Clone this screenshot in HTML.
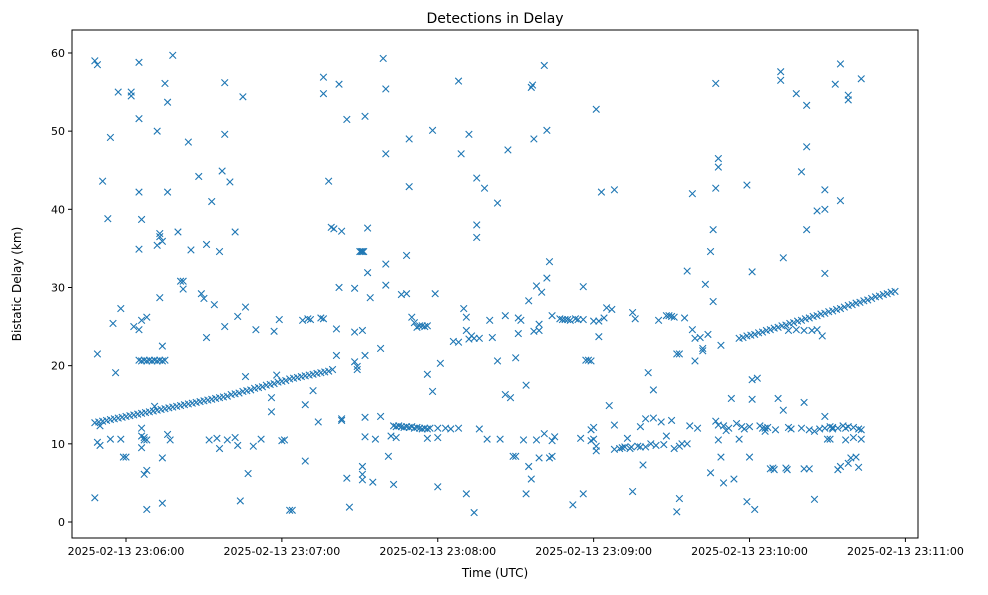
<!DOCTYPE html>
<html><head><meta charset="utf-8"><style>
body{margin:0;background:#fff;font-family:"Liberation Sans","DejaVu Sans",sans-serif;}
svg text{font-family:"DejaVu Sans","Liberation Sans",sans-serif;}
</style></head><body>
<svg id="chart" width="988" height="590" viewBox="0 0 988 590" xmlns="http://www.w3.org/2000/svg">
<rect width="988" height="590" fill="#fff"/>
<text x="495" y="23" font-size="14" text-anchor="middle">Detections in Delay</text>
<text x="495" y="577" font-size="12" text-anchor="middle">Time (UTC)</text>
<text x="21" y="284" font-size="12" text-anchor="middle" transform="rotate(-90 21 284)">Bistatic Delay (km)</text>
<g id="marks"></g>
<g id="axes"></g>
</svg>
<script>
// seconds after 23:06:00, delay km
const xTickLabels = ["2025-02-13 23:06:00","2025-02-13 23:07:00","2025-02-13 23:08:00","2025-02-13 23:09:00","2025-02-13 23:10:00","2025-02-13 23:11:00"];
const xTickSeconds = [0,60,120,180,240,300];
const yTicks = [0,10,20,30,40,50,60];
const track1 = [[-12,12.7],[-10.5,12.8],[-9,12.9],[-7.5,13.0],[-6,13.1],[-4.5,13.2],[-3,13.3],[-1.5,13.4],[0,13.5],[1.5,13.6],[3,13.7],[4.5,13.8],[6,13.9],[7.5,14.0],[9,14.1],[10.5,14.2],[12,14.3],[13.5,14.4],[15,14.5],[16.5,14.6],[18,14.7],[19.5,14.8],[21,14.9],[22.5,15.0],[24,15.1],[25.5,15.2],[27,15.3],[28.5,15.4],[30,15.5],[31.5,15.6],[33,15.7],[34.5,15.8],[36,15.9],[37.5,16.0],[39,16.1],[40.5,16.3],[42,16.4],[43.5,16.5],[45,16.7],[46.5,16.8],[48,16.9],[49.5,17.1],[51,17.2],[52.5,17.3],[54,17.5],[55.5,17.6],[57,17.7],[58.5,17.9],[60,18.0],[61.5,18.1],[63,18.3],[64.5,18.4],[66,18.5],[67.5,18.6],[69,18.7],[70.5,18.8],[72,18.9],[73.5,19.0],[75,19.1],[76.5,19.2],[78,19.3],[79.5,19.5]];
const track2 = [[236,23.5],[237.5,23.6],[239,23.8],[240.5,23.9],[242,24.0],[243.5,24.2],[245,24.3],[246.5,24.5],[248,24.6],[249.5,24.8],[251,24.9],[252.5,25.1],[254,25.2],[255.5,25.4],[257,25.5],[258.5,25.7],[260,25.8],[261.5,26.0],[263,26.1],[264.5,26.3],[266,26.4],[267.5,26.6],[269,26.7],[270.5,26.9],[272,27.0],[273.5,27.2],[275,27.3],[276.5,27.5],[278,27.7],[279.5,27.8],[281,28.0],[282.5,28.1],[284,28.3],[285.5,28.4],[287,28.6],[288.5,28.8],[290,28.9],[291.5,29.1],[293,29.2],[294.5,29.4],[296,29.5]];
const clusters = [[5,20.7],[6,20.6],[7,20.7],[8,20.6],[9,20.7],[10,20.6],[11,20.7],[12,20.6],[13,20.7],[14,20.6],[15,20.7],[103,12.3],[104,12.2],[105,12.3],[106,12.2],[107,12.1],[108,12.2],[109,12.1],[110,12.2],[111,12.0],[112,12.1],[113,12.0],[114,11.9],[115,12.0],[116,11.9],[117,12.0],[120,12.0],[123,12.0],[125,11.9],[128,12.0],[255,24.5],[258,24.6],[261,24.5],[264,24.5],[266,24.6],[268,23.8],[70,26.0],[71,25.9],[246,12.0],[247,12.1],[272,12.1],[274,12.0],[278,12.2]];
const outliers = [[-12,59.0],[-11,58.5],[-11,21.5],[-12,3.1],[-11,10.2],[-10,9.8],[-10,12.3],[-9,43.6],[-7,38.8],[-6,49.2],[-5,25.4],[-4,19.1],[-3,55.0],[-6,10.6],[-2,27.3],[-2,10.6],[-1,8.3],[0,8.3],[2,55.0],[2,54.5],[3,25.0],[5,24.6],[5,58.8],[5,51.6],[5,42.2],[6,38.7],[5,34.9],[6,25.8],[8,26.2],[6,12.0],[6,11.0],[7,10.5],[7,10.8],[8,10.5],[6,9.5],[7,6.1],[8,6.6],[8,1.6],[11,14.8],[12,35.4],[13,36.9],[13,36.5],[14,35.9],[13,28.7],[14,22.5],[12,50.0],[14,2.4],[14,8.2],[15,56.1],[16,53.7],[16,42.2],[16,11.2],[17,10.5],[18,59.7],[20,37.1],[21,30.8],[22,30.8],[22,29.8],[24,48.6],[25,34.8],[28,44.2],[29,29.2],[30,28.6],[31,23.6],[31,35.5],[32,10.5],[33,41.0],[34,27.8],[35,10.7],[36,34.6],[36,9.4],[37,44.9],[38,56.2],[38,49.6],[38,25.0],[39,10.5],[40,43.5],[42,37.1],[42,10.8],[43,26.3],[43,9.8],[44,2.7],[45,54.4],[46,27.5],[46,18.6],[47,6.2],[49,9.7],[50,24.6],[52,10.6],[56,15.9],[56,14.1],[57,24.4],[58,18.8],[59,25.9],[60,10.4],[61,10.5],[63,1.5],[64,1.5],[68,25.8],[69,7.8],[69,15.0],[72,16.8],[74,12.8],[75,26.1],[76,26.0],[76,56.9],[76,54.8],[78,43.6],[79,37.7],[80,37.5],[81,24.7],[81,21.3],[82,30.0],[82,56.0],[83,37.2],[83,13.2],[83,13.0],[85,51.5],[85,5.6],[86,1.9],[88,29.9],[88,24.3],[88,20.5],[89,19.5],[89,19.9],[90,34.6],[90.5,34.6],[91,34.6],[91.5,34.6],[91,24.5],[91,7.1],[91,6.1],[91,5.4],[92,10.9],[92,51.9],[92,21.3],[92,13.4],[93,37.6],[93,31.9],[94,28.7],[96,10.6],[95,5.1],[98,13.5],[98,22.2],[99,59.3],[100,47.1],[100,55.4],[100,33.0],[100,30.3],[101,8.4],[102,11.0],[103,4.8],[104,10.8],[106,29.1],[108,34.1],[109,49.0],[109,42.9],[108,29.2],[110,26.2],[111,25.5],[112,24.9],[113,25.1],[114,25.1],[115,25.0],[116,25.1],[116,18.9],[116,10.7],[118,50.1],[118,16.7],[119,29.2],[120,4.5],[121,20.3],[120,10.8],[126,23.1],[128,23.0],[128,56.4],[129,47.1],[130,27.3],[131,26.2],[131,24.5],[131,3.6],[132,49.6],[132,23.4],[133,23.8],[134,23.5],[134,1.2],[135,44.0],[135,38.0],[135,36.4],[136,23.5],[136,11.9],[138,42.7],[139,10.6],[140,25.8],[141,23.6],[143,40.8],[143,20.6],[144,10.6],[146,26.4],[146,16.3],[147,47.6],[148,15.9],[149,8.4],[150,8.4],[150,21.0],[151,26.1],[151,24.1],[152,25.8],[153,10.5],[154,3.6],[154,17.5],[155,7.1],[155,28.3],[156,55.6],[156.5,55.9],[156,5.5],[157,49.0],[157,24.4],[158,30.2],[158,10.5],[159,25.3],[159,24.5],[159,8.2],[160,29.4],[161,11.3],[161,58.4],[162,31.2],[162,50.1],[163,33.3],[163,8.2],[164,8.4],[164,26.4],[164,10.4],[165,10.9],[167,26.0],[168,25.9],[169,25.9],[170,25.9],[171,25.8],[172,2.2],[173,26.0],[174,25.9],[175,10.7],[176,25.9],[176,30.1],[176,3.6],[177,20.7],[178,20.7],[179,20.6],[179,10.4],[179,11.8],[180,25.7],[180,12.1],[180,10.6],[181,52.8],[181,9.7],[181,9.1],[182,25.7],[182,23.7],[183,42.2],[184,26.1],[185,27.4],[186,14.9],[187,27.2],[188,9.3],[188,42.5],[188,12.4],[190,9.4],[191,9.5],[192,9.6],[193,10.7],[194,9.4],[194.5,9.6],[195,3.9],[195,26.8],[196,26.0],[197,9.7],[198,9.6],[198,12.2],[199,7.3],[200,9.6],[200,13.2],[201,19.1],[202,10.0],[203,16.9],[203,13.3],[204,9.8],[205,25.8],[206,12.8],[207,9.9],[208,11.0],[208,26.4],[209,26.4],[210,13.0],[210,26.3],[211,9.4],[211,26.2],[212,21.5],[213,21.5],[213,9.7],[212,1.3],[213,3.0],[214,10.0],[215,26.1],[216,10.0],[216,32.1],[217,12.3],[218,42.0],[218,24.6],[219,23.5],[219,20.6],[220,12.0],[221,23.6],[222,21.9],[222,22.2],[223,30.4],[224,24.0],[225,6.3],[225,34.6],[226,37.4],[226,28.2],[227,56.1],[227,42.7],[228,46.5],[228,45.4],[227,12.9],[228,12.4],[228,10.5],[229,22.6],[229,8.3],[230,5.0],[230,12.3],[231,11.7],[232,12.0],[233,15.8],[234,5.5],[235,12.6],[236,10.6],[237,12.2],[238,11.9],[239,43.1],[239,2.6],[240,12.2],[240,8.3],[241,18.2],[241,15.7],[241,32.0],[242,1.6],[243,18.4],[244,12.3],[245,12.0],[246,11.6],[248,6.8],[249,6.9],[249.5,6.7],[250,11.8],[251,15.8],[252,57.6],[252,56.5],[253,33.8],[253,14.3],[254,6.9],[254.5,6.7],[255,12.1],[256,11.9],[258,54.8],[260,12.0],[260,44.8],[261,15.3],[261,6.8],[262,48.0],[262,37.4],[262,53.3],[263,6.8],[263,11.8],[265,2.9],[265,11.6],[266,39.8],[267,11.9],[269,42.5],[269,31.8],[269,40.0],[269,13.5],[269,12.0],[270,10.6],[271,10.6],[271,12.2],[272,11.9],[273,56.0],[274,6.7],[275,58.6],[275,41.1],[275,7.1],[276,12.3],[277,12.0],[277,10.5],[278,54.6],[278,54.0],[278,7.5],[279,8.2],[280,10.8],[280,12.1],[281,8.3],[282,7.0],[282,11.9],[283,56.7],[283,11.8],[283,10.6]];

const L=72,R=918,T=30,B=538;
function xPos(s){return 126+s*2.598;}
function yPos(d){return 522-d*7.817;}
const NS="http://www.w3.org/2000/svg";
const marks=document.getElementById('marks');
const axes=document.getElementById('axes');
function addMarker(p){
  const x=xPos(p[0]),y=yPos(p[1]),s=3.3;
  const path=document.createElementNS(NS,'path');
  path.setAttribute('d',`M${x-s},${y-s}L${x+s},${y+s}M${x-s},${y+s}L${x+s},${y-s}`);
  path.setAttribute('stroke','#1f77b4');
  path.setAttribute('stroke-width','1.1');
  path.setAttribute('fill','none');
  
  
  marks.appendChild(path);
}
[track1,track2,clusters,outliers].forEach(a=>a.forEach(addMarker));
const frame=document.createElementNS(NS,'rect');
frame.setAttribute('x',L);frame.setAttribute('y',T);frame.setAttribute('width',R-L);frame.setAttribute('height',B-T);
frame.setAttribute('fill','none');frame.setAttribute('stroke','#000');frame.setAttribute('stroke-width','1');


axes.appendChild(frame);
yTicks.forEach(v=>{
  const y=yPos(v);
  const l=document.createElementNS(NS,'line');
  l.setAttribute('x1',L-4);l.setAttribute('x2',L);l.setAttribute('y1',y);l.setAttribute('y2',y);l.setAttribute('stroke','#000');
  
  
  axes.appendChild(l);
  const t=document.createElementNS(NS,'text');
  t.setAttribute('x',L-7);t.setAttribute('y',y+4);t.setAttribute('font-size','11');t.setAttribute('text-anchor','end');
  t.textContent=v;
  
  
  axes.appendChild(t);
});
xTickSeconds.forEach((s,i)=>{
  const x=xPos(s);
  const l=document.createElementNS(NS,'line');
  l.setAttribute('x1',x);l.setAttribute('x2',x);l.setAttribute('y1',B);l.setAttribute('y2',B+4);l.setAttribute('stroke','#000');
  
  
  axes.appendChild(l);
  const t=document.createElementNS(NS,'text');
  t.setAttribute('x',x);t.setAttribute('y',B+17);t.setAttribute('font-size','11');t.setAttribute('text-anchor','middle');
  t.textContent=xTickLabels[i];
  
  
  axes.appendChild(t);
});
</script>
</body></html>
